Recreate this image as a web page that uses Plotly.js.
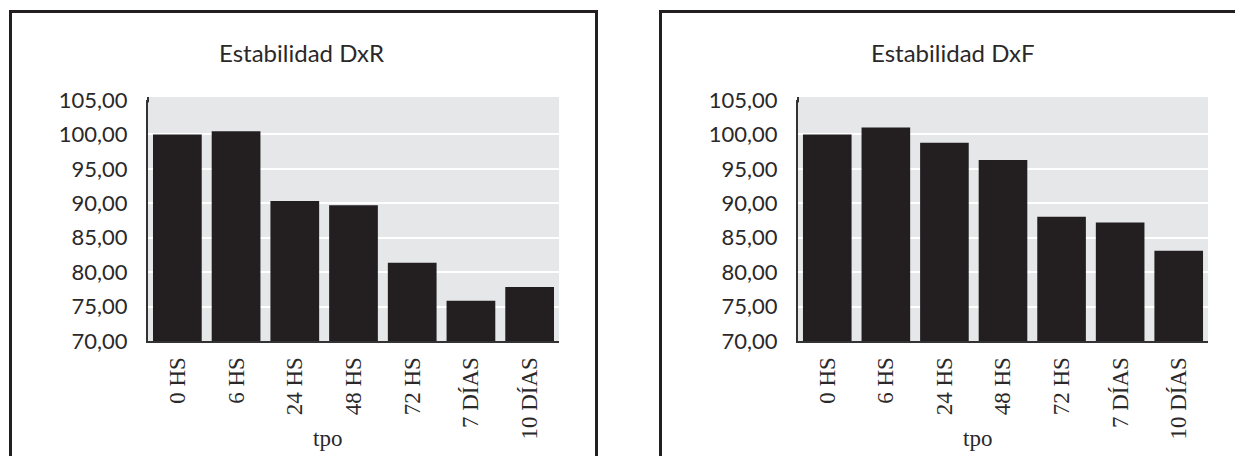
<!DOCTYPE html>
<html>
<head>
<meta charset="utf-8">
<script src="https://cdn.plot.ly/plotly-3.0.1.min.js"></script>
<style>html,body{margin:0;padding:0;background:#fff;}#chart{width:1235px;height:456px;}</style>
</head>
<body>
<div id="chart"></div>
<script>
const categories = ["0 HS", "6 HS", "24 HS", "48 HS", "72 HS", "7 DÍAS", "10 DÍAS"];
const valuesDxR = [100.0, 100.45, 90.35, 89.7, 81.35, 75.85, 77.85];
const valuesDxF = [100.0, 101.0, 98.8, 96.3, 88.05, 87.2, 83.1];
const yTickVals = [70, 75, 80, 85, 90, 95, 100, 105];
const yTickText = ["70,00", "75,00", "80,00", "85,00", "90,00", "95,00", "100,00", "105,00"];
const titles = ["Estabilidad DxR", "Estabilidad DxF"];
const xTitle = "tpo";

const INK = "#231f20";
const GRAY = "#e6e7e8";
const sans = "Lato, 'Open Sans', sans-serif";
const serif = "'Liberation Serif', 'DejaVu Serif', serif";

const traces = [
  {type: "bar", x: categories, y: valuesDxR, xaxis: "x", yaxis: "y",
   marker: {color: INK, line: {width: 0}}, hoverinfo: "x+y"},
  {type: "bar", x: categories, y: valuesDxF, xaxis: "x2", yaxis: "y2",
   marker: {color: INK, line: {width: 0}}, hoverinfo: "x+y"}
];

function xAxis(domain, anchor) {
  return {domain: domain, anchor: anchor, type: "category",
    tickangle: -90, ticks: "", ticklabelstandoff: 5,
    tickfont: {family: serif, size: 23, color: "#2b2829"},
    showline: true, linecolor: "#333333", linewidth: 2,
    showgrid: false, zeroline: false, fixedrange: true};
}
function yAxis(anchor) {
  return {domain: [0.25219, 0.78070], anchor: anchor, range: [70, 105],
    tickvals: yTickVals, ticktext: yTickText, ticks: "", ticklabelstandoff: 14,
    tickfont: {family: sans, size: 22, color: "#2b2829"},
    showline: true, linecolor: "#333333", linewidth: 2,
    showgrid: true, gridcolor: "#ffffff", gridwidth: 2, zeroline: false, fixedrange: true};
}

const shapes = [];
// chart frames
shapes.push({type: "rect", xref: "paper", yref: "paper",
  x0: 10.5/1235, x1: 596.5/1235, y0: -0.05, y1: 1 - 11.5/456,
  line: {color: INK, width: 3}, fillcolor: "rgba(0,0,0,0)", layer: "below"});
shapes.push({type: "rect", xref: "paper", yref: "paper",
  x0: 660.5/1235, x1: 1.05, y0: -0.05, y1: 1 - 11.5/456,
  line: {color: INK, width: 3}, fillcolor: "rgba(0,0,0,0)", layer: "below"});
// plot-area background extends slightly above the top tick
[["x", "y"], ["x2", "y2"]].forEach(([xa, ya]) => {
  shapes.push({type: "rect", xref: xa + " domain", yref: ya + " domain",
    x0: 0, x1: 1, y0: 1, y1: 1.0125, fillcolor: GRAY, line: {width: 0}, layer: "below"});
  shapes.push({type: "line", xref: xa + " domain", yref: ya + " domain",
    x0: 0, x1: 0, y0: 0.99, y1: 1.0125, line: {color: "#333333", width: 2}});
});

const annotations = [
  {text: titles[0], xref: "paper", yref: "paper", x: 301.5/1235, y: 1 - 52/456,
   xanchor: "center", yanchor: "middle", showarrow: false,
   font: {family: sans, size: 24, color: "#2b2829"}},
  {text: titles[1], xref: "paper", yref: "paper", x: 952/1235, y: 1 - 52/456,
   xanchor: "center", yanchor: "middle", showarrow: false,
   font: {family: sans, size: 24, color: "#2b2829"}},
  {text: xTitle, xref: "paper", yref: "paper", x: 327/1235, y: 1 - 438/456,
   xanchor: "center", yanchor: "middle", showarrow: false,
   font: {family: serif, size: 23, color: "#2b2829"}},
  {text: xTitle, xref: "paper", yref: "paper", x: 977/1235, y: 1 - 438/456,
   xanchor: "center", yanchor: "middle", showarrow: false,
   font: {family: serif, size: 23, color: "#2b2829"}}
];

const layout = {
  width: 1235, height: 456,
  margin: {l: 0, r: 0, t: 0, b: 0, pad: 0},
  paper_bgcolor: "#ffffff", plot_bgcolor: GRAY,
  showlegend: false, bargap: 0.17,
  xaxis: xAxis([0.11984, 0.45263], "y"),
  yaxis: yAxis("x"),
  xaxis2: xAxis([0.64615, 0.97814], "y2"),
  yaxis2: yAxis("x2"),
  shapes: shapes,
  annotations: annotations
};

Plotly.newPlot("chart", traces, layout, {displayModeBar: false, staticPlot: true});
</script>
</body>
</html>
